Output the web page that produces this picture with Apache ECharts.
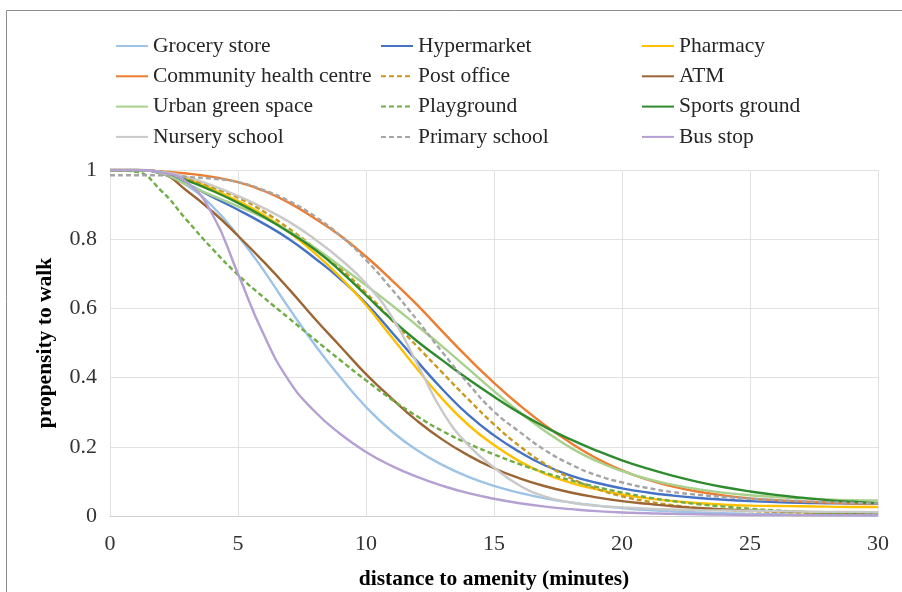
<!DOCTYPE html>
<html>
<head>
<meta charset="utf-8">
<script src="https://cdn.jsdelivr.net/npm/echarts@6.0.0/dist/echarts.min.js"></script>
<style>html,body{margin:0;padding:0;background:#fff;}#c{width:902px;height:592px;}</style>
</head>
<body>
<div id="c"></div>
<script>
// minutes 0..30
var minutes = [0,1,2,3,4,5,6,7,8,9,10,11,12,13,14,15,16,17,18,19,20,21,22,23,24,25,26,27,28,29,30];
var xTicks = [0,5,10,15,20,25,30];
var yTicks = [0,0.2,0.4,0.6,0.8,1];

var groceryStore    = [1,1,0.99,0.955,0.895,0.81,0.71,0.6,0.495,0.4,0.315,0.245,0.19,0.147,0.113,0.087,0.067,0.051,0.039,0.03,0.023,0.017,0.013,0.01,0.008,0.006,0.005,0.004,0.003,0.003,0.002];
var hypermarket     = [1,1,0.99,0.96,0.922,0.885,0.845,0.8,0.745,0.685,0.615,0.532,0.447,0.365,0.292,0.233,0.185,0.146,0.117,0.096,0.08,0.068,0.059,0.052,0.047,0.043,0.04,0.038,0.037,0.036,0.035];
var pharmacy        = [1,1,0.995,0.975,0.945,0.91,0.87,0.82,0.76,0.69,0.61,0.517,0.425,0.337,0.263,0.205,0.158,0.122,0.096,0.077,0.062,0.051,0.043,0.037,0.033,0.03,0.029,0.028,0.027,0.026,0.026];
var communityHealth = [1,1,0.996,0.99,0.98,0.965,0.94,0.905,0.86,0.81,0.75,0.682,0.61,0.532,0.456,0.385,0.32,0.262,0.211,0.167,0.132,0.105,0.085,0.07,0.059,0.051,0.046,0.042,0.039,0.037,0.036];
var postOffice      = [1,1,0.995,0.975,0.95,0.92,0.88,0.83,0.775,0.715,0.645,0.567,0.49,0.413,0.337,0.265,0.202,0.15,0.109,0.079,0.057,0.042,0.031,0.023,0.018,0.014,0.012,0.01,0.009,0.008,0.008];
var atm             = [1,1,0.99,0.94,0.88,0.81,0.735,0.655,0.57,0.49,0.41,0.34,0.275,0.22,0.175,0.138,0.109,0.086,0.068,0.054,0.043,0.035,0.028,0.023,0.019,0.016,0.014,0.012,0.011,0.01,0.009];
var urbanGreen      = [1,1,0.99,0.958,0.926,0.895,0.862,0.823,0.775,0.722,0.667,0.61,0.55,0.489,0.425,0.361,0.3,0.245,0.197,0.159,0.13,0.107,0.09,0.077,0.067,0.06,0.055,0.051,0.048,0.046,0.045];
var playground      = [1,0.995,0.94,0.855,0.772,0.697,0.632,0.571,0.51,0.45,0.392,0.337,0.288,0.245,0.209,0.178,0.15,0.125,0.103,0.084,0.068,0.054,0.043,0.034,0.027,0.021,0.016,0.012,0.009,0.007,0.006];
var sportsGround    = [1,1,0.995,0.97,0.94,0.905,0.865,0.82,0.77,0.708,0.638,0.568,0.505,0.449,0.395,0.345,0.298,0.257,0.221,0.189,0.161,0.137,0.116,0.098,0.083,0.071,0.061,0.053,0.046,0.041,0.037];
var nurserySchool   = [1,1,0.995,0.98,0.955,0.925,0.89,0.85,0.8,0.742,0.672,0.577,0.44,0.3,0.205,0.14,0.088,0.056,0.039,0.03,0.025,0.021,0.019,0.017,0.016,0.015,0.014,0.013,0.012,0.012,0.011];
var primarySchool   = [0.985,0.985,0.985,0.98,0.975,0.965,0.942,0.91,0.866,0.81,0.74,0.656,0.566,0.472,0.382,0.302,0.243,0.19,0.149,0.118,0.097,0.081,0.069,0.061,0.055,0.05,0.046,0.043,0.04,0.038,0.036];
var busStop         = [1,1,0.993,0.965,0.872,0.7,0.525,0.39,0.302,0.237,0.185,0.145,0.113,0.087,0.066,0.05,0.037,0.027,0.02,0.014,0.01,0.008,0.006,0.005,0.004,0.003,0.003,0.002,0.002,0.002,0.002];

var seriesDefs = [
  {name:'Grocery store', data:groceryStore, color:'#9DC3E6', dash:false},
  {name:'Hypermarket', data:hypermarket, color:'#4472C4', dash:false},
  {name:'Pharmacy', data:pharmacy, color:'#FFC000', dash:false},
  {name:'Community health centre', data:communityHealth, color:'#ED7D31', dash:false},
  {name:'Post office', data:postOffice, color:'#C9981E', dash:true},
  {name:'ATM', data:atm, color:'#9C6534', dash:false},
  {name:'Urban green space', data:urbanGreen, color:'#A9D18E', dash:false},
  {name:'Playground', data:playground, color:'#70AD47', dash:true},
  {name:'Sports ground', data:sportsGround, color:'#2E8B2E', dash:false},
  {name:'Nursery school', data:nurserySchool, color:'#C9C9C9', dash:false},
  {name:'Primary school', data:primarySchool, color:'#A5A5A5', dash:true},
  {name:'Bus stop', data:busStop, color:'#B4A0D2', dash:false}
];

var FONT = 'Liberation Serif';
var legendCols = [
  {left:110, names:['Grocery store','Community health centre','Urban green space','Nursery school']},
  {left:375, names:['Hypermarket','Post office','Playground','Primary school']},
  {left:636, names:['Pharmacy','ATM','Sports ground','Bus stop']}
];

var chart = echarts.init(document.getElementById('c'));
chart.setOption({
  animation:false,
  backgroundColor:'#fff',
  graphic:[{type:'rect', shape:{x:6.5,y:10.5,width:1000,height:1000}, style:{fill:'none', stroke:'#8c8c8c', lineWidth:1}, silent:true}],
  legend: legendCols.map(function(c){
    return {
      orient:'vertical', left:c.left, top:30, itemWidth:32, itemHeight:12, itemGap:8.3,
      itemStyle:{opacity:0},
      data:c.names,
      textStyle:{fontFamily:FONT, fontSize:21.5, color:'#262626', lineHeight:20}
    };
  }),
  grid:{left:110, right:24, top:170, bottom:76, containLabel:false, outerBoundsMode:'none'},
  xAxis:{
    type:'value', min:0, max:30, interval:5,
    name:'distance to amenity (minutes)', nameLocation:'middle', nameGap:52,
    nameTextStyle:{fontFamily:FONT, fontSize:21.5, fontWeight:'bold', color:'#000'},
    axisLine:{show:true, lineStyle:{color:'#d0d0d0'}},
    axisTick:{show:false},
    axisLabel:{fontFamily:FONT, fontSize:22, color:'#333', margin:17},
    splitLine:{show:true, lineStyle:{color:'#e2e2e2'}}
  },
  yAxis:{
    type:'value', min:0, max:1, interval:0.2,
    name:'propensity to walk', nameLocation:'middle', nameGap:54,
    nameTextStyle:{fontFamily:FONT, fontSize:21.5, fontWeight:'bold', color:'#000'},
    axisLine:{show:false}, axisTick:{show:false},
    axisLabel:{fontFamily:FONT, fontSize:22, color:'#333', margin:13},
    splitLine:{show:true, lineStyle:{color:'#e2e2e2'}}
  },
  series: seriesDefs.map(function(s){
    return {
      name:s.name, type:'line', symbol:'none', smooth:0.5,
      color:s.color,
      lineStyle:{color:s.color, width:2.4, type: s.dash ? [5,3] : 'solid'},
      data: minutes.map(function(t,i){ return [t, s.data[i]]; })
    };
  })
});
</script>
</body>
</html>
